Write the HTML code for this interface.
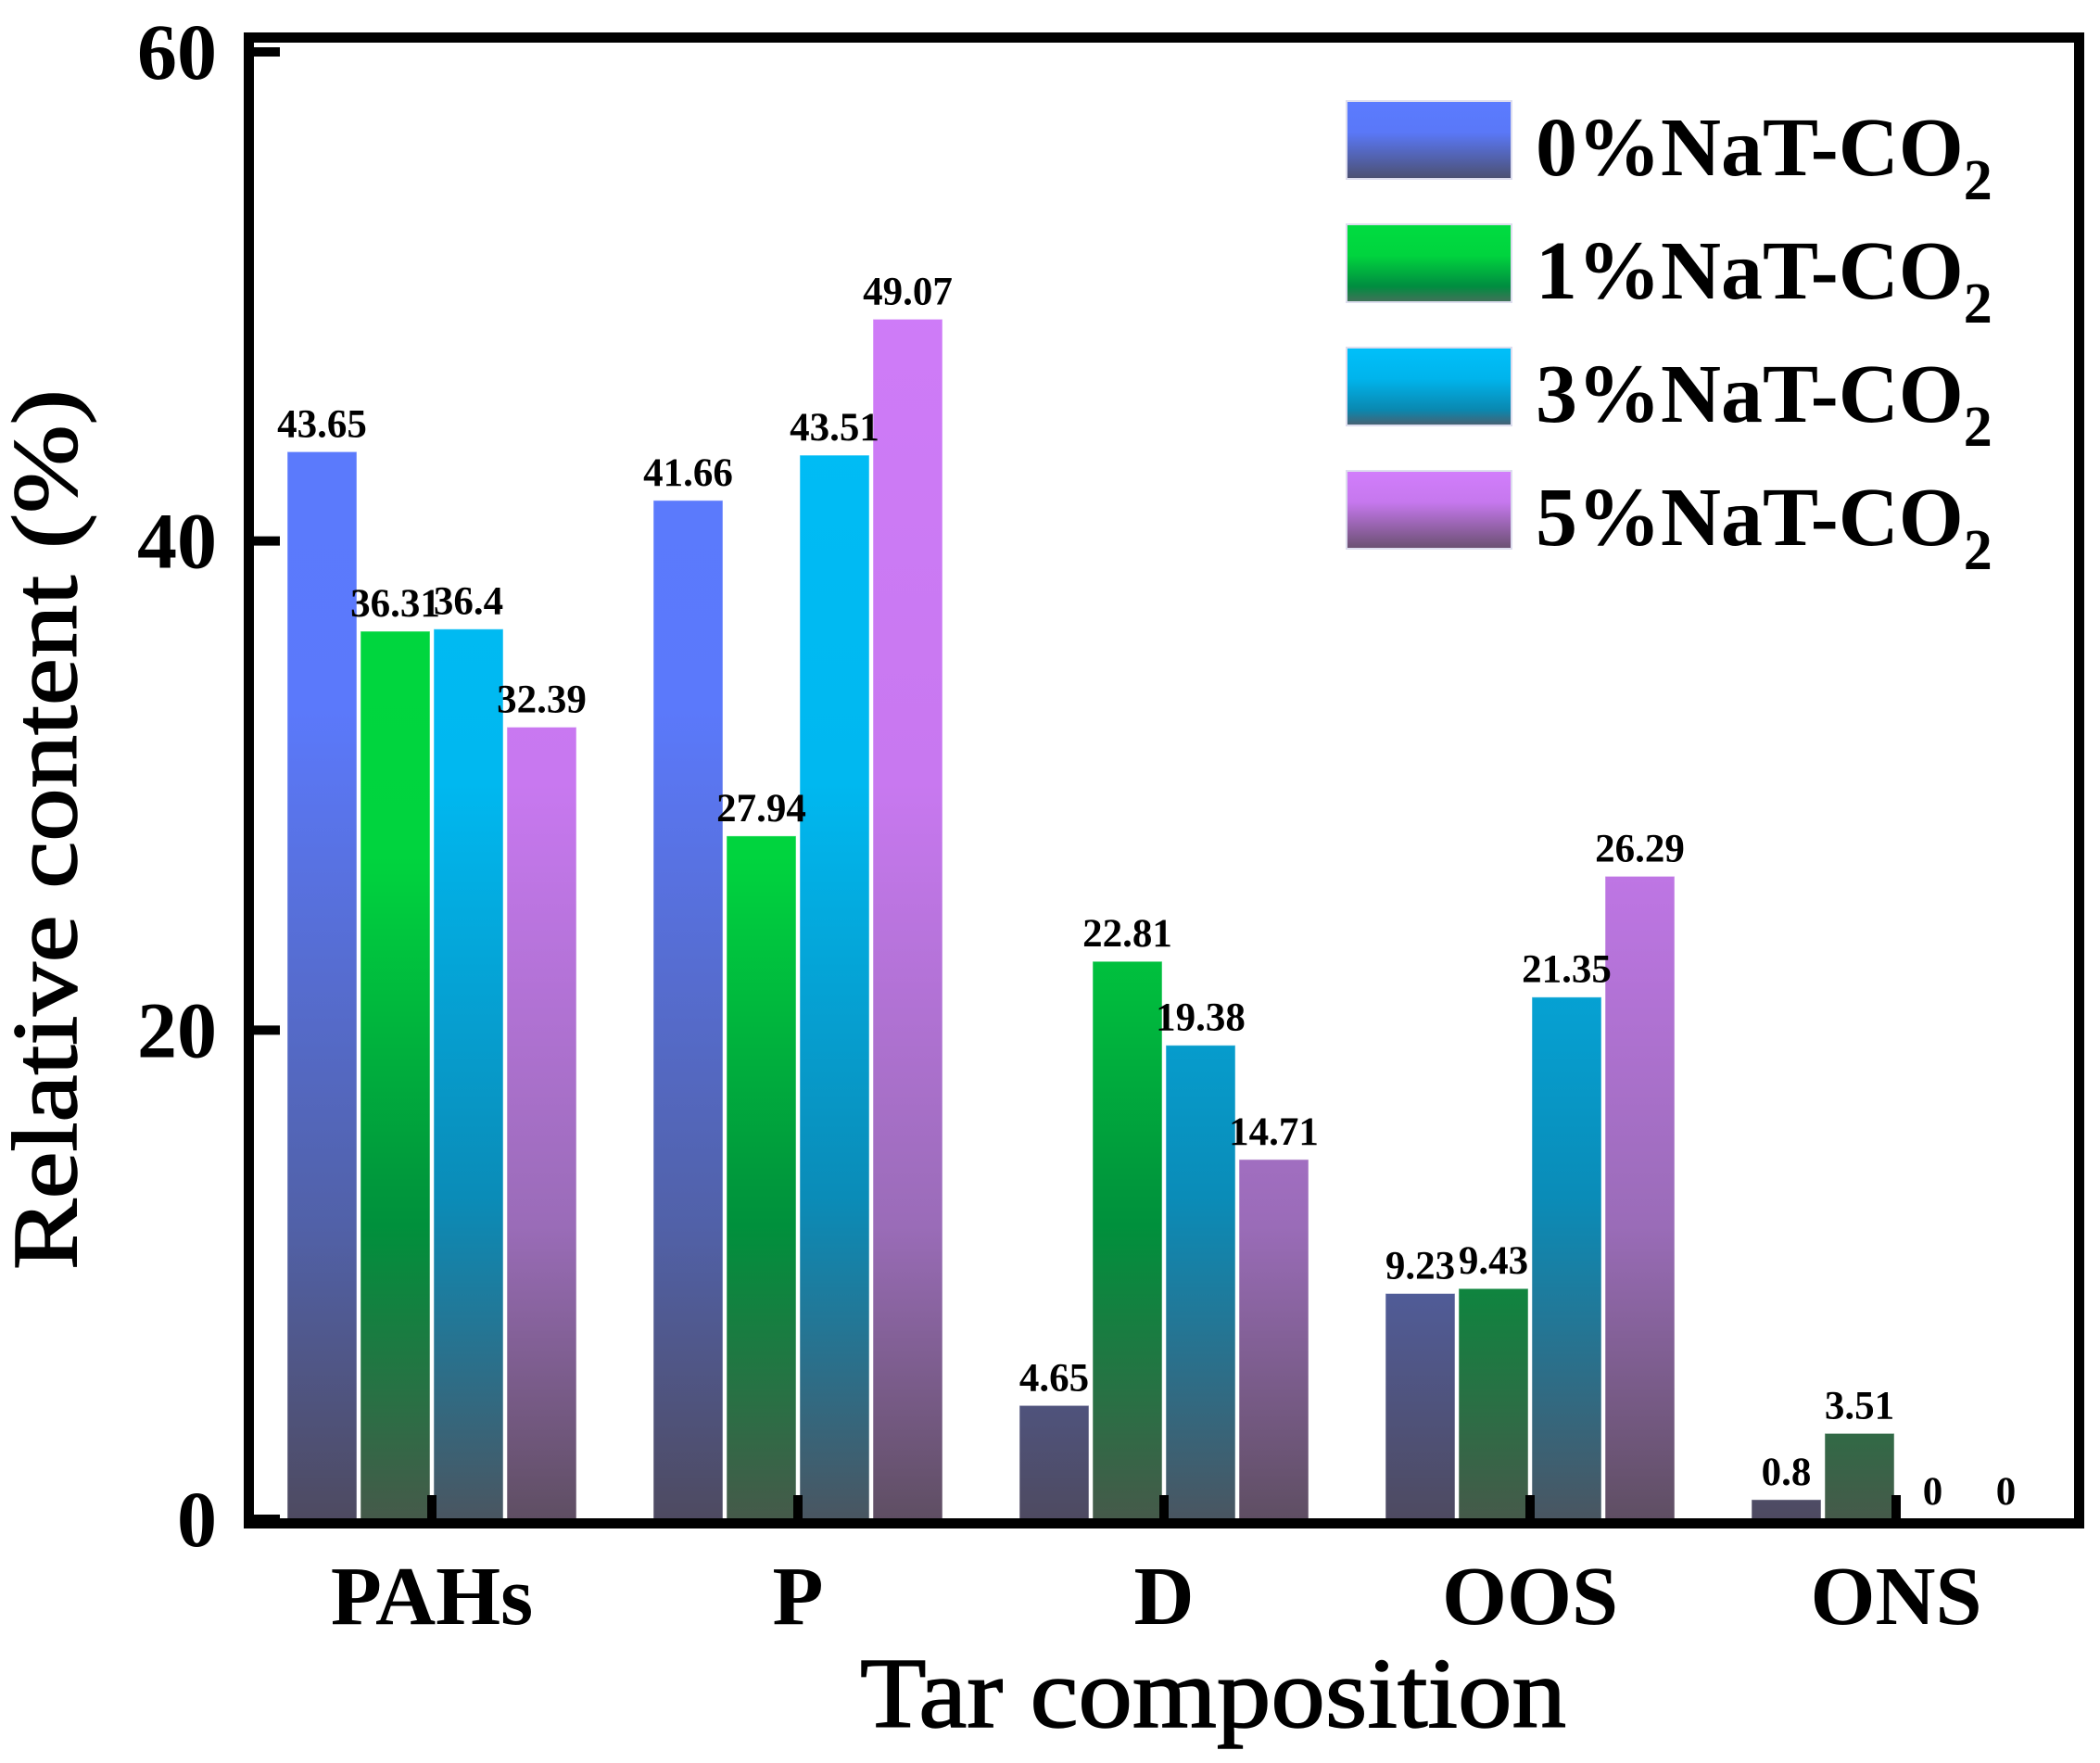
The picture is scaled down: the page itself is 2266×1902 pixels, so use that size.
<!DOCTYPE html>
<html><head><meta charset="utf-8"><style>
html,body{margin:0;padding:0;background:#fff;}
svg{display:block;font-family:"Liberation Serif",serif;}
</style></head><body>
<svg id="chart" width="2266" height="1902" viewBox="0 0 2266 1902">
<defs>
<linearGradient id="g0" gradientUnits="userSpaceOnUse" x1="0" y1="46" x2="0" y2="1642"><stop offset="0" stop-color="#5b7bff"/><stop offset="0.45" stop-color="#5b79fb"/><stop offset="0.8" stop-color="#5161a8"/><stop offset="1" stop-color="#4e4a60"/></linearGradient>
<linearGradient id="g1" gradientUnits="userSpaceOnUse" x1="0" y1="46" x2="0" y2="1642"><stop offset="0" stop-color="#00dc40"/><stop offset="0.55" stop-color="#00d43e"/><stop offset="0.8" stop-color="#00903c"/><stop offset="1" stop-color="#46594a"/></linearGradient>
<linearGradient id="g2" gradientUnits="userSpaceOnUse" x1="0" y1="46" x2="0" y2="1642"><stop offset="0" stop-color="#00c0fa"/><stop offset="0.5" stop-color="#00b8f0"/><stop offset="0.78" stop-color="#0a8cb8"/><stop offset="1" stop-color="#4a5560"/></linearGradient>
<linearGradient id="g3" gradientUnits="userSpaceOnUse" x1="0" y1="46" x2="0" y2="1642"><stop offset="0" stop-color="#d27dfc"/><stop offset="0.5" stop-color="#c878f0"/><stop offset="0.8" stop-color="#9a6cb8"/><stop offset="1" stop-color="#5e4e62"/></linearGradient>
<linearGradient id="l0" x1="0" y1="0" x2="0" y2="1"><stop offset="0" stop-color="#5b7bff"/><stop offset="0.4" stop-color="#5a78f8"/><stop offset="1" stop-color="#4c5070"/></linearGradient>
<linearGradient id="l1" x1="0" y1="0" x2="0" y2="1"><stop offset="0" stop-color="#00dc40"/><stop offset="0.4" stop-color="#00d43e"/><stop offset="0.8" stop-color="#008c40"/><stop offset="1" stop-color="#44705a"/></linearGradient>
<linearGradient id="l2" x1="0" y1="0" x2="0" y2="1"><stop offset="0" stop-color="#00c0fa"/><stop offset="0.4" stop-color="#00b4ec"/><stop offset="0.8" stop-color="#0a88b0"/><stop offset="1" stop-color="#4a6070"/></linearGradient>
<linearGradient id="l3" x1="0" y1="0" x2="0" y2="1"><stop offset="0" stop-color="#d27dfc"/><stop offset="0.4" stop-color="#c678ee"/><stop offset="1" stop-color="#6a5070"/></linearGradient>
</defs>
<g id="bars"></g>
<g id="labels"></g>
<rect x="268.5" y="40.5" width="1975" height="1603" fill="none" stroke="#000" stroke-width="11"/>
<g id="axes"></g>
<text transform="translate(82,895) rotate(-90)" text-anchor="middle" font-size="100" textLength="950" lengthAdjust="spacingAndGlyphs" stroke="#000" stroke-width="1.5">Relative content (%)</text>
<text x="1309" y="1863" text-anchor="middle" font-size="108" textLength="762" lengthAdjust="spacingAndGlyphs" stroke="#000" stroke-width="1.5">Tar composition</text>
<g id="legend"></g>
</svg>
<script>
const categories = ["PAHs","P","D","OOS","ONS"];
const seriesNames = ["0%NaT-CO","1%NaT-CO","3%NaT-CO","5%NaT-CO"];
const s0 = [43.65, 41.66, 4.65, 9.23, 0.8];
const s1 = [36.31, 27.94, 22.81, 9.43, 3.51];
const s2 = [36.4, 43.51, 19.38, 21.35, 0];
const s3 = [32.39, 49.07, 14.71, 26.29, 0];
const yTicks = [0, 20, 40, 60];
const series = [s0, s1, s2, s3];
const NS = "http://www.w3.org/2000/svg";
const y0 = 1639, yTop = 56, yMax = 60;
function yScale(v){ return y0 - (v / yMax) * (y0 - yTop); }
function xCenter(i){ return 466 + i * 395; }
const barW = 75, pitch = 79;
function mk(tag, attrs, parent){ const e = document.createElementNS(NS, tag); for (const k in attrs) e.setAttribute(k, attrs[k]); parent.appendChild(e); return e; }
const gb = document.getElementById('bars'), gl = document.getElementById('labels'), ga = document.getElementById('axes'), gLeg = document.getElementById('legend');
series.forEach((s, si) => {
  s.forEach((v, ci) => {
    const x = xCenter(ci) - 2 * pitch + 2 + si * pitch;
    const y = yScale(v);
    const r = mk('rect', {x: x, y: y, width: barW, height: Math.max(0, y0 - y), fill: 'url(#g' + si + ')', stroke: 'rgba(255,255,255,0.5)', 'stroke-width': 1}, gb);
    
    
    const t = mk('text', {x: x + barW / 2, y: y - 16, 'text-anchor': 'middle', 'font-size': 43, 'font-weight': 'bold'}, gl);
    t.textContent = String(v);
    
    
  });
});
yTicks.forEach(v => {
  const y = yScale(v);
  const l = mk('line', {x1: 268, x2: 302, y1: y, y2: y, stroke: '#000', 'stroke-width': 10}, ga);
  
  
  const t = mk('text', {x: 234, y: y + 29, 'text-anchor': 'end', 'font-size': 86, 'font-weight': 'bold'}, ga);
  t.textContent = String(v);
  
  
});
categories.forEach((c, i) => {
  const x = xCenter(i);
  const l = mk('line', {x1: x, x2: x, y1: 1640, y2: 1613, stroke: '#000', 'stroke-width': 10}, ga);
  
  
  const t = mk('text', {x: x, y: 1752, 'text-anchor': 'middle', 'font-size': 90, 'font-weight': 'bold'}, ga);
  t.textContent = c;
  
  
});
seriesNames.forEach((n, i) => {
  const y = 109 + i * 133;
  const r = mk('rect', {x: 1453, y: y, width: 178, height: 84, fill: 'url(#l' + i + ')', stroke: '#dde', 'stroke-width': 2}, gLeg);
  
  
  const t = mk('text', {x: 1657, y: y + 80, 'font-size': 90, 'font-weight': 'bold'}, gLeg);
  t.textContent = n;
  const sub = mk('tspan', {'font-size': 62, dy: 26}, t);
  sub.textContent = '2';
  
  
});
</script>
</body></html>
